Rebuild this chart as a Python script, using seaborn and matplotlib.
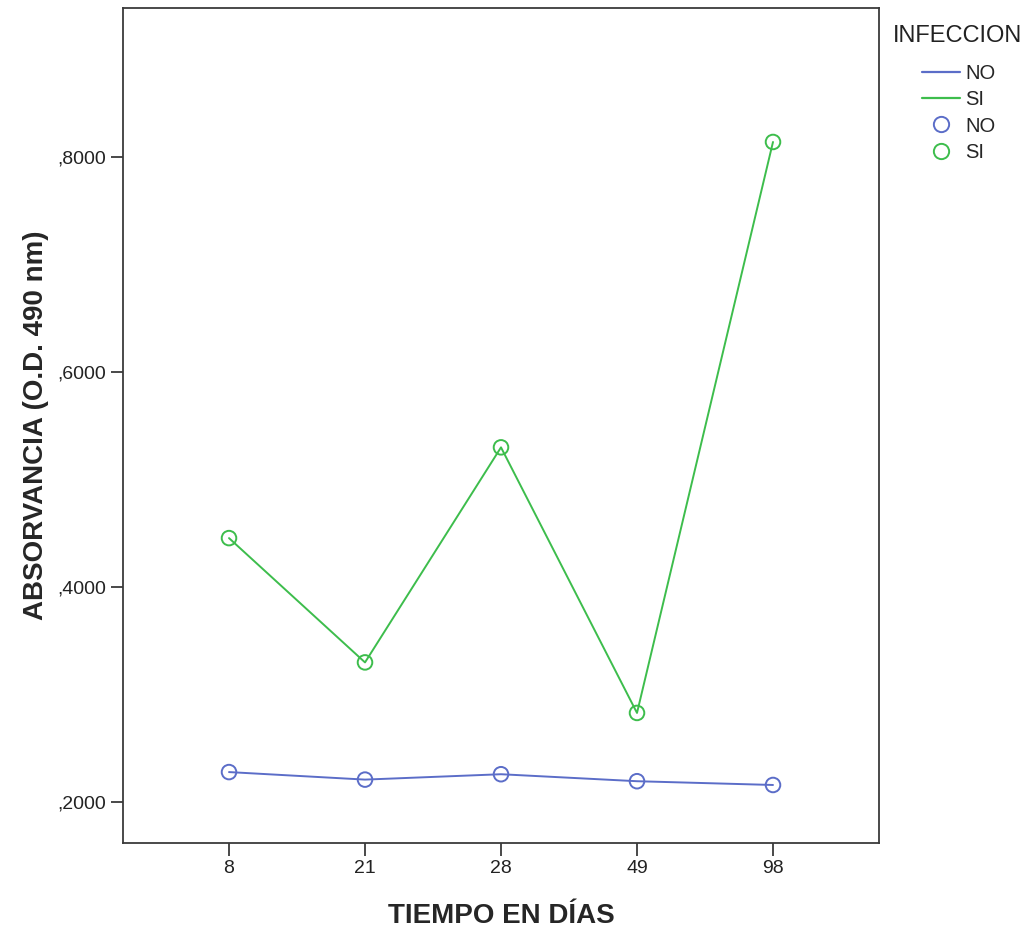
import numpy as np
import pandas as pd
import matplotlib
matplotlib.use('Agg')
import matplotlib.pyplot as plt
import seaborn as sns
from matplotlib.lines import Line2D
from matplotlib.ticker import FuncFormatter

# Datos
dias = ['8', '21', '28', '49', '98']
absor_no = [0.228, 0.221, 0.226, 0.2195, 0.216]
absor_si = [0.4456, 0.330, 0.530, 0.283, 0.814]
grupos = ['NO', 'SI']
colores = {'NO': '#5b6dc8', 'SI': '#3dbd4c'}

df = pd.DataFrame({
    'dia': dias * 2,
    'absorvancia': absor_no + absor_si,
    'infeccion': ['NO'] * len(dias) + ['SI'] * len(dias),
})

sns.set_style('white')
plt.rcParams['font.family'] = ['Liberation Sans', 'DejaVu Sans']

fig = plt.figure(figsize=(10.33, 9.3), dpi=100)
ax = fig.add_axes([0.119, 0.0935, 0.732, 0.8979])

sns.lineplot(data=df, x='dia', y='absorvancia', hue='infeccion', palette=colores,
             linewidth=1.4, legend=False, ax=ax, sort=False)
sns.scatterplot(data=df, x='dia', y='absorvancia', hue='infeccion', palette=colores,
                s=110, facecolors='none', linewidth=1.4, legend=False, ax=ax)
# marcadores huecos
for coll in ax.collections:
    fc = coll.get_facecolors()
    coll.set_edgecolors(fc)
    coll.set_facecolors('none')

ax.set_xlim(-0.78, 4.78)
ax.set_ylim(0.162, 0.9386)
ax.set_yticks([0.2, 0.4, 0.6, 0.8])
ax.yaxis.set_major_formatter(FuncFormatter(lambda v, p: ('%.4f' % v).lstrip('0').replace('.', ',')))

for s in ax.spines.values():
    s.set_color('#3a3a3a')
    s.set_linewidth(1.3)
ax.tick_params(axis='both', direction='out', length=9, width=1.3, color='#3a3a3a',
               labelsize=14, labelcolor='#222222', left=True, bottom=True, pad=3)

ax.set_xlabel('TIEMPO EN DÍAS', fontsize=20, fontweight='bold', labelpad=19)
ax.set_ylabel('ABSORVANCIA (O.D. 490 nm)', fontsize=20, fontweight='bold', labelpad=6)

# leyenda con título aparte, como en el original
fig.text(893 / 1033, 1 - 36 / 930, 'INFECCION', fontsize=17, color='#222222',
         ha='left', va='center')
handles = [Line2D([], [], color=colores[g], lw=1.6) for g in grupos]
handles += [Line2D([], [], color=colores[g], marker='o', ls='none', markersize=11,
                   markerfacecolor='none', markeredgewidth=1.4) for g in grupos]
labels = grupos + grupos
leg = fig.legend(handles, labels, loc='upper left',
                 bbox_to_anchor=(922 / 1033, 1 - 64 / 930), frameon=False, fontsize=14.5,
                 borderaxespad=0, borderpad=0, handlelength=1.9, handletextpad=0.25,
                 labelspacing=0.36)

plt.savefig('out.png', dpi=100)
